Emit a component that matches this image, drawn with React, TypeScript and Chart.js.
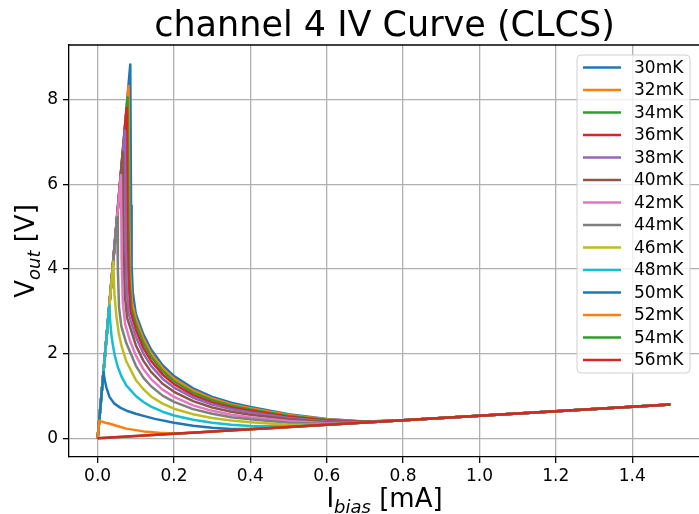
import React, { useEffect, useRef } from 'react';
import { Chart, registerables } from 'chart.js';
Chart.register(...registerables);

const temps = ['30mK', '32mK', '34mK', '36mK', '38mK', '40mK', '42mK', '44mK', '46mK', '48mK', '50mK', '52mK', '54mK', '56mK'];
const colors = ['#1f77b4', '#ff7f0e', '#2ca02c', '#d62728', '#9467bd', '#8c564b', '#e377c2', '#7f7f7f', '#bcbd22', '#17becf', '#1f77b4', '#ff7f0e', '#2ca02c', '#d62728'];

const xTicks = [0, 0.2, 0.4, 0.6, 0.8, 1.0, 1.2, 1.4];
const yTicks = [0, 2, 4, 6, 8];

const i30 = [0, 0.0855, 0.0875, 0.089, 0.092, 0.1, 0.12, 0.14, 0.17, 0.2, 0.25, 0.3, 0.35, 0.4, 0.5, 0.6, 0.7, 0.8, 1.0, 1.2, 1.5];
const v30 = [0, 8.83, 5.5, 4.1, 3.45, 2.94, 2.45, 2.1, 1.73, 1.47, 1.18, 0.98, 0.84, 0.74, 0.57, 0.46, 0.4, 0.427, 0.533, 0.64, 0.8];
const i32 = [0, 0.081, 0.083, 0.085, 0.09, 0.1, 0.12, 0.14, 0.17, 0.2, 0.25, 0.3, 0.35, 0.4, 0.5, 0.6, 0.7, 0.8, 1.0, 1.2, 1.5];
const v32 = [0, 8.32, 5.2, 3.9, 3.2, 2.82, 2.35, 2.01, 1.66, 1.41, 1.13, 0.94, 0.8, 0.71, 0.55, 0.45, 0.395, 0.427, 0.533, 0.64, 0.8];
const i34 = [0, 0.0785, 0.0805, 0.083, 0.088, 0.1, 0.12, 0.14, 0.17, 0.2, 0.25, 0.3, 0.35, 0.4, 0.5, 0.6, 0.7, 0.8, 1.0, 1.2, 1.5];
const v34 = [0, 8.05, 5.0, 3.8, 3.1, 2.7, 2.25, 1.93, 1.59, 1.35, 1.08, 0.9, 0.77, 0.68, 0.53, 0.44, 0.39, 0.427, 0.533, 0.64, 0.8];
const i36 = [0, 0.076, 0.078, 0.081, 0.086, 0.1, 0.12, 0.14, 0.17, 0.2, 0.25, 0.3, 0.35, 0.4, 0.5, 0.6, 0.7, 0.8, 1.0, 1.2, 1.5];
const v36 = [0, 7.8, 4.8, 3.7, 3.0, 2.56, 2.13, 1.83, 1.51, 1.28, 1.02, 0.85, 0.73, 0.65, 0.51, 0.42, 0.385, 0.427, 0.533, 0.64, 0.8];
const i38 = [0, 0.0715, 0.0735, 0.076, 0.081, 0.1, 0.12, 0.14, 0.17, 0.2, 0.25, 0.3, 0.35, 0.4, 0.5, 0.6, 0.7, 0.8, 1.0, 1.2, 1.5];
const v38 = [0, 7.27, 4.6, 3.6, 2.95, 2.4, 2.0, 1.71, 1.41, 1.2, 0.96, 0.8, 0.69, 0.61, 0.48, 0.4, 0.38, 0.427, 0.533, 0.64, 0.8];
const i40 = [0, 0.066, 0.068, 0.071, 0.077, 0.1, 0.12, 0.14, 0.17, 0.2, 0.25, 0.3, 0.35, 0.4, 0.5, 0.6, 0.7, 0.8, 1.0, 1.2, 1.5];
const v40 = [0, 6.76, 4.4, 3.4, 2.85, 2.2, 1.83, 1.57, 1.29, 1.1, 0.88, 0.73, 0.63, 0.56, 0.45, 0.38, 0.375, 0.427, 0.533, 0.64, 0.8];
const i42 = [0, 0.061, 0.063, 0.066, 0.072, 0.085, 0.1, 0.12, 0.14, 0.17, 0.2, 0.25, 0.3, 0.35, 0.4, 0.5, 0.6, 0.7, 0.8, 1.0, 1.2, 1.5];
const v42 = [0, 6.22, 4.2, 3.2, 2.7, 2.3, 1.96, 1.63, 1.4, 1.15, 0.98, 0.78, 0.65, 0.56, 0.5, 0.41, 0.36, 0.373, 0.427, 0.533, 0.64, 0.8];
const i44 = [0, 0.051, 0.053, 0.056, 0.062, 0.075, 0.1, 0.12, 0.14, 0.17, 0.2, 0.25, 0.3, 0.35, 0.4, 0.5, 0.6, 0.7, 0.8, 1.0, 1.2, 1.5];
const v44 = [0, 5.22, 4.0, 3.1, 2.65, 2.25, 1.72, 1.43, 1.23, 1.01, 0.86, 0.69, 0.58, 0.5, 0.45, 0.37, 0.34, 0.373, 0.427, 0.533, 0.64, 0.8];
const i46 = [0, 0.041, 0.044, 0.049, 0.055, 0.062, 0.075, 0.1, 0.12, 0.14, 0.17, 0.2, 0.25, 0.3, 0.35, 0.4, 0.5, 0.6, 0.7, 0.8, 1.0, 1.2, 1.5];
const v46 = [0, 4.17, 3.4, 2.9, 2.5, 2.2, 1.82, 1.38, 1.16, 0.99, 0.82, 0.7, 0.57, 0.48, 0.42, 0.38, 0.32, 0.33, 0.373, 0.427, 0.533, 0.64, 0.8];
const i48 = [0, 0.0305, 0.033, 0.036, 0.04, 0.045, 0.053, 0.062, 0.075, 0.088, 0.1, 0.12, 0.14, 0.17, 0.2, 0.25, 0.3, 0.35, 0.4, 0.5, 0.6, 0.8, 1.0, 1.2, 1.5];
const v48 = [0, 3.13, 2.75, 2.45, 2.2, 1.95, 1.68, 1.47, 1.25, 1.12, 1.0, 0.86, 0.75, 0.63, 0.54, 0.44, 0.37, 0.32, 0.29, 0.28, 0.32, 0.427, 0.533, 0.64, 0.8];
const i50 = [0, 0.0155, 0.018, 0.023, 0.031, 0.044, 0.06, 0.08, 0.1, 0.125, 0.15, 0.2, 0.25, 0.3, 0.35, 0.4, 0.45, 0.6, 0.8, 1.0, 1.2, 1.5];
const v50 = [0, 1.57, 1.4, 1.2, 0.98, 0.82, 0.72, 0.64, 0.58, 0.52, 0.46, 0.37, 0.3, 0.25, 0.22, 0.22, 0.24, 0.32, 0.427, 0.533, 0.64, 0.8];
const i52 = [0, 0.0045, 0.01, 0.02, 0.03, 0.045, 0.075, 0.12, 0.16, 0.2, 0.25, 0.4, 0.6, 0.8, 1.0, 1.2, 1.5];
const v52 = [0, 0.42, 0.4, 0.37, 0.35, 0.31, 0.23, 0.165, 0.13, 0.115, 0.135, 0.213, 0.32, 0.427, 0.533, 0.64, 0.8];
const i54 = [0, 0.2, 0.4, 0.6, 0.8, 1.0, 1.2, 1.5];
const v54 = [0, 0.107, 0.213, 0.32, 0.427, 0.533, 0.64, 0.8];
const i56 = [0, 0.2, 0.4, 0.6, 0.8, 1.0, 1.2, 1.5];
const v56 = [0, 0.107, 0.213, 0.32, 0.427, 0.533, 0.64, 0.8];

const seriesI = [i30, i32, i34, i36, i38, i40, i42, i44, i46, i48, i50, i52, i54, i56];
const seriesV = [v30, v32, v34, v36, v38, v40, v42, v44, v46, v48, v50, v52, v54, v56];

const FONT = '"DejaVu Sans"';

const decor = {
  id: 'decor',
  afterDraw(chart: any) {
    const ctx: CanvasRenderingContext2D = chart.ctx;
    const a = chart.chartArea;
    ctx.save();
    // top spine
    ctx.strokeStyle = '#000';
    ctx.lineWidth = 1.3;
    ctx.beginPath();
    ctx.moveTo(a.left, a.top);
    ctx.lineTo(a.right, a.top);
    ctx.stroke();

    const cx = a.left + (a.right + 1 - a.left) / 2;
    // title
    ctx.fillStyle = '#000';
    ctx.textBaseline = 'alphabetic';
    ctx.textAlign = 'center';
    ctx.font = `35px ${FONT}`;
    ctx.fillText('channel 4 IV Curve (CLCS)', cx, a.top - 9);

    // x label with subscript
    const drawSubLabel = (main: string, sub: string, rest: string, x0: number, y0: number) => {
      ctx.textAlign = 'left';
      ctx.font = `26px ${FONT}`;
      const w1 = ctx.measureText(main).width;
      const w3 = ctx.measureText(rest).width;
      ctx.font = `italic 18px ${FONT}`;
      const w2 = ctx.measureText(sub).width;
      const total = w1 + w2 + w3;
      let x = x0 - total / 2;
      ctx.font = `26px ${FONT}`;
      ctx.fillText(main, x, y0);
      x += w1;
      ctx.font = `italic 18px ${FONT}`;
      ctx.fillText(sub, x, y0 + 6);
      x += w2;
      ctx.font = `26px ${FONT}`;
      ctx.fillText(rest, x, y0);
    };
    drawSubLabel('I', 'bias', ' [mA]', cx, a.bottom + 50);

    ctx.save();
    ctx.translate(a.left - 35, (a.top + a.bottom) / 2);
    ctx.rotate(-Math.PI / 2);
    drawSubLabel('V', 'out', ' [V]', 0, 0);
    ctx.restore();

    // legend
    const bx = a.right - 122;
    const by = a.top + 10;
    const bw = 113;
    const bh = 318;
    const r = 4;
    ctx.beginPath();
    ctx.moveTo(bx + r, by);
    ctx.arcTo(bx + bw, by, bx + bw, by + bh, r);
    ctx.arcTo(bx + bw, by + bh, bx, by + bh, r);
    ctx.arcTo(bx, by + bh, bx, by, r);
    ctx.arcTo(bx, by, bx + bw, by, r);
    ctx.closePath();
    ctx.fillStyle = 'rgba(255,255,255,0.8)';
    ctx.fill();
    ctx.strokeStyle = '#d0d0d0';
    ctx.lineWidth = 1;
    ctx.stroke();

    ctx.font = `17px ${FONT}`;
    ctx.textAlign = 'left';
    ctx.textBaseline = 'middle';
    chart.data.datasets.forEach((ds: any, k: number) => {
      const y = by + 12.5 + k * 22.5;
      ctx.strokeStyle = ds.borderColor;
      ctx.lineWidth = 2.5;
      ctx.beginPath();
      ctx.moveTo(bx + 6, y);
      ctx.lineTo(bx + 44, y);
      ctx.stroke();
      ctx.fillStyle = '#000';
      ctx.fillText(ds.label, bx + 57, y + 1);
    });
    ctx.restore();
  },
};

export default function App() {
  const ref = useRef<HTMLCanvasElement>(null);
  useEffect(() => {
    document.body.style.margin = '0';
    const datasets = temps.map((t, k) => ({
      label: t,
      data: seriesI[k].map((x, j) => ({ x, y: seriesV[k][j] })),
      borderColor: colors[k],
      backgroundColor: colors[k],
      borderWidth: 2.5,
      borderJoinStyle: 'round' as const,
      pointRadius: 0,
      tension: 0,
      fill: false,
      order: temps.length - 1 - k,
    }));
    const tickFont = { family: 'DejaVu Sans', size: 17 };
    const chart = new Chart(ref.current!, {
      type: 'line',
      data: { datasets },
      options: {
        animation: false,
        responsive: false,
        devicePixelRatio: 1,
        layout: { padding: { top: 45, left: 0, right: 0, bottom: 0 } },
        plugins: { legend: { display: false }, tooltip: { enabled: false }, title: { display: false } },
        scales: {
          x: {
            type: 'linear',
            min: -0.075,
            max: 1.575,
            afterBuildTicks: (s: any) => { s.ticks = xTicks.map((v) => ({ value: v })); },
            afterFit: (s: any) => { s.height = 57; },
            ticks: { callback: (v: any) => Number(v).toFixed(1), font: tickFont, color: '#000', padding: 3, maxRotation: 0, autoSkip: false },
            grid: { color: '#b0b0b0', lineWidth: 1.3, tickLength: 6, tickColor: '#000', tickWidth: 1.3 },
            border: { color: '#000', width: 1.3 },
          },
          y: {
            type: 'linear',
            min: -0.44,
            max: 9.29,
            afterBuildTicks: (s: any) => { s.ticks = yTicks.map((v) => ({ value: v })); },
            afterFit: (s: any) => { s.width = 69; },
            ticks: { callback: (v: any) => String(v), font: tickFont, color: '#000', padding: 5, autoSkip: false },
            grid: { color: '#b0b0b0', lineWidth: 1.3, tickLength: 6, tickColor: '#000', tickWidth: 1.3 },
            border: { color: '#000', width: 1.3 },
          },
        },
      },
      plugins: [decor],
    });
    return () => chart.destroy();
  }, []);
  return (
    <div style={{ width: 699, height: 514 }}>
      <canvas ref={ref} width={699} height={514} style={{ display: 'block' }} />
    </div>
  );
}
